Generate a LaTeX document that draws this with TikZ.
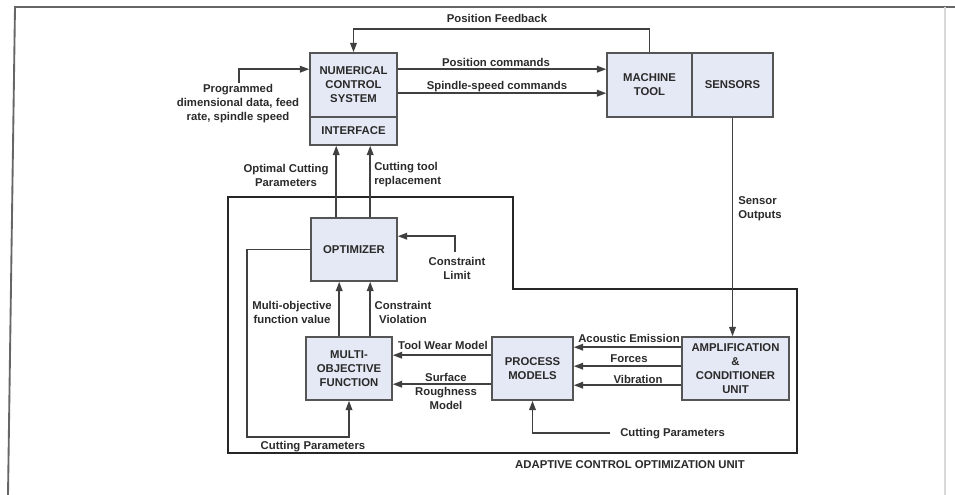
\documentclass[tikz,border=0pt]{standalone}
\usepackage{fontspec}
\setmainfont{Liberation Sans}
\usetikzlibrary{arrows.meta,calc}
\definecolor{boxfill}{HTML}{E5E9F5}
\definecolor{boxline}{HTML}{555555}
\definecolor{wire}{HTML}{404040}
\definecolor{txt}{HTML}{2A2A2A}
\begin{document}
\begin{tikzpicture}[x=0.75pt,y=-0.75pt,
  blk/.style={draw=boxline,line width=1.2pt,fill=boxfill,align=center,inner sep=1pt,
    font=\fontsize{8.5}{10.5}\selectfont\bfseries,text=txt},
  lbl/.style={font=\fontsize{8.5}{10.5}\selectfont\bfseries,text=txt,inner sep=0pt},
  wr/.style={draw=wire,line width=1.1pt},
  arr/.style={wr,-{Triangle[length=7pt,width=5pt]}},
  unit/.style={draw=black!85,line width=1.8pt}]
\useasboundingbox (0,0) rectangle (955,495);
% outer frame
\draw[draw=black!60,line width=1.4pt] (8,495) -- (15,7) -- (955,7);
\draw[draw=black!15,line width=1pt] (945,7) -- (945,495);
% blocks
\node[blk,minimum width=65.25pt,minimum height=48pt] (ncs) at (353.5,85) {NUMERICAL\\CONTROL\\SYSTEM};
\node[blk,minimum width=65.25pt,minimum height=21pt] (iface) at (353.5,131) {INTERFACE};
\node[blk,minimum width=63.75pt,minimum height=48pt] (mt) at (649.5,85) {MACHINE\\TOOL};
\node[blk,minimum width=60.75pt,minimum height=48pt] (sens) at (732.5,85) {SENSORS};
\node[blk,minimum width=64.5pt,minimum height=47.25pt] (opt) at (354,249.5) {OPTIMIZER};
\node[blk,minimum width=64.5pt,minimum height=47.25pt] (mof) at (349,368.5) {MULTI-\\OBJECTIVE\\FUNCTION};
\node[blk,minimum width=60.75pt,minimum height=47.25pt] (pm) at (532.5,368.5) {PROCESS\\MODELS};
\node[blk,minimum width=80.25pt,minimum height=47.25pt] (amp) at (735.5,368.5) {AMPLIFICATION\\\&\\CONDITIONER\\UNIT};
% adaptive control unit boundary
\draw[unit] (228,197) -- (513,197) -- (513,289) -- (797,289) -- (797,453) -- (228,453) -- cycle;
% free ends
\coordinate (prog) at (239,83);
\coordinate (clim) at (455,252);
\coordinate (cpar) at (610,433);
% connectors
\draw[arr] (mt.north) -- ++(0,-23) -| (ncs.north);
\draw[arr] ($(ncs.north east)+(0,17)$) coordinate (a1) -- (a1 -| mt.west);
\draw[arr] ($(ncs.north east)+(0,41)$) coordinate (a2) -- (a2 -| mt.west);
\draw[arr] (prog) |- ($(ncs.north west)+(0,17)$);
\draw[arr] ($(opt.north west)+(26,0)$) coordinate (a3) -- (a3 |- iface.south);
\draw[arr] ($(opt.north west)+(60,0)$) coordinate (a4) -- (a4 |- iface.south);
\draw[arr] (clim) |- ($(opt.north east)+(0,19)$);
\draw[arr] (opt.west) -- ++(-63,0) |- ($(mof.south)+(0,36)$) -- (mof.south);
\draw[arr] ($(mof.north west)+(34,0)$) coordinate (a5) -- (a5 |- opt.south);
\draw[arr] ($(mof.north west)+(65,0)$) coordinate (a6) -- (a6 |- opt.south);
\draw[arr] ($(pm.north west)+(0,19)$) coordinate (a7) -- (a7 -| mof.east);
\draw[arr] ($(pm.north west)+(0,48)$) coordinate (a8) -- (a8 -| mof.east);
\draw[arr] ($(amp.north west)+(0,11)$) coordinate (a9) -- (a9 -| pm.east);
\draw[arr] ($(amp.north west)+(0,30)$) coordinate (a10) -- (a10 -| pm.east);
\draw[arr] ($(amp.north west)+(0,49)$) coordinate (a11) -- (a11 -| pm.east);
\draw[arr] (sens.south) -- (sens.south |- amp.north);
\draw[arr] (cpar) -| (pm.south);
% labels
\node[lbl] (lpf) at (497,18) {Position Feedback};
\node[lbl] (lpc) at (496,62) {Position commands};
\node[lbl] (lsc) at (497,87) {Spindle-speed commands};
\node[lbl,align=center] (lprog) at (238,104) {Programmed\\dimensional data, feed\\rate, spindle speed};
\node[lbl,align=center] (locp) at (286,175) {Optimal Cutting\\Parameters};
\node[lbl,align=left,anchor=west] (lctr) at (374,175) {Cutting tool\\replacement};
\node[lbl,align=center] (lcl) at (457,268) {Constraint\\Limit};
\node[lbl,align=center] (lmofv) at (292,312) {Multi-objective\\function value};
\node[lbl,align=center] (lcv) at (403,312) {Constraint\\Violation};
\node[lbl] (ltw) at (443,345) {Tool Wear Model};
\node[lbl,align=center] (lsr) at (446,391) {Surface\\Roughness\\Model};
\node[lbl] (lcp1) at (313,447) {Cutting Parameters};
\node[lbl] (lae) at (629,338) {Acoustic Emission};
\node[lbl] (lfo) at (629,359) {Forces};
\node[lbl] (lvi) at (638,379) {Vibration};
\node[lbl,anchor=west] (lcp2) at (620,434) {Cutting Parameters};
\node[lbl] (lacu) at (630,465) {ADAPTIVE CONTROL OPTIMIZATION UNIT};
\node[lbl,align=left,anchor=west] (lso) at (738,209) {Sensor\\Outputs};
\end{tikzpicture}
\end{document}
